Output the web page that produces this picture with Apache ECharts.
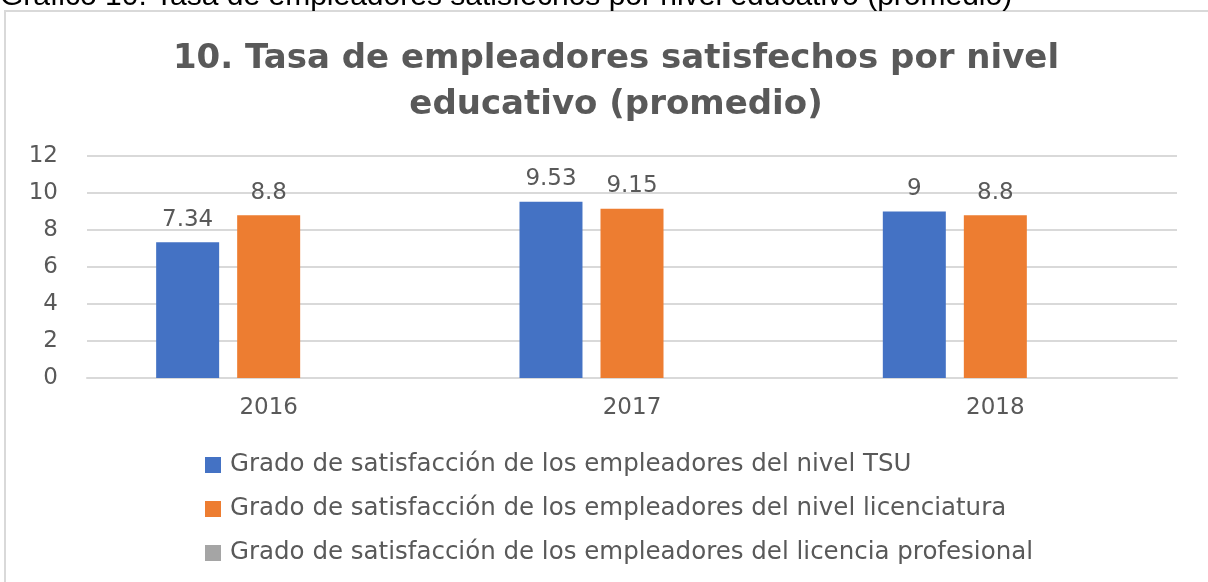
<!DOCTYPE html>
<html>
<head>
<meta charset="utf-8">
<script src="https://cdn.jsdelivr.net/npm/echarts@6/dist/echarts.min.js"></script>
<style>
  html, body { margin: 0; padding: 0; background: #fff; }
  #chart { width: 1208px; height: 582px; }
</style>
</head>
<body>
<div id="chart"></div>
<script>
// 数据
var years = ['2016', '2017', '2018'];
var seriesNames = [
  'Grado de satisfacción de los empleadores del nivel TSU',
  'Grado de satisfacción de los empleadores del nivel licenciatura',
  'Grado de satisfacción de los empleadores del licencia profesional'
];
var tsuValues = [7.34, 9.53, 9];
var licValues = [8.8, 9.15, 8.8];
var profValues = [null, null, null];
var colors = ['#4472c4', '#ed7d31', '#a5a5a5'];

var myChart = echarts.init(document.getElementById('chart'));
var font = 'DejaVu Sans';

function makeSeries(i, values) {
  return {
    name: seriesNames[i],
    type: 'bar',
    data: values,
    barWidth: 63,
    barGap: '28.6%',
    itemStyle: { color: colors[i] },
    label: {
      show: true,
      position: 'top',
      distance: 11,
      color: '#595959',
      fontFamily: font,
      fontSize: 23
    }
  };
}

var option = {
  animation: false,
  textStyle: { fontFamily: font },
  title: [
    {
      text: '10. Tasa de empleadores satisfechos por nivel\neducativo (promedio)',
      left: 611,
      textAlign: 'center',
      top: 31,
      textStyle: {
        color: '#595959',
        fontFamily: font,
        fontWeight: 'bold',
        fontSize: 34,
        lineHeight: 46
      }
    },
    {
      // 被裁掉一半的图片标题
      text: 'Gráfico 10. Tasa de empleadores satisfechos por nivel educativo (promedio)',
      left: 0,
      top: -18,
      padding: 0,
      textStyle: {
        color: '#000',
        fontFamily: 'Liberation Sans',
        fontWeight: 'normal',
        fontSize: 30
      }
    }
  ],
  graphic: [
    {
      type: 'rect',
      shape: { x: 5, y: 11, width: 1230, height: 600 },
      style: { fill: 'none', stroke: '#d9d9d9', lineWidth: 2 },
      silent: true
    }
  ],
  legend: {
    orient: 'vertical',
    left: 200,
    top: 446,
    itemWidth: 16,
    itemHeight: 16,
    itemGap: 16,
    icon: 'rect',
    textStyle: {
      color: '#595959',
      fontFamily: font,
      fontSize: 24.5,
      lineHeight: 28,
      padding: [0, 0, 0, 4]
    },
    data: seriesNames
  },
  grid: { left: 87, right: 31, top: 156, bottom: 204 },
  xAxis: {
    type: 'category',
    data: years,
    axisTick: { show: false },
    axisLine: { lineStyle: { color: '#d9d9d9', width: 2 } },
    axisLabel: { color: '#595959', fontFamily: font, fontSize: 23, margin: 19 }
  },
  yAxis: {
    type: 'value',
    min: 0,
    max: 12,
    interval: 2,
    axisLine: { show: false },
    axisTick: { show: false },
    splitLine: { lineStyle: { color: '#d9d9d9', width: 2 } },
    axisLabel: { color: '#595959', fontFamily: font, fontSize: 23, margin: 29 }
  },
  series: [
    makeSeries(0, tsuValues),
    makeSeries(1, licValues),
    makeSeries(2, profValues)
  ]
};

option && myChart.setOption(option);
</script>
</body>
</html>
